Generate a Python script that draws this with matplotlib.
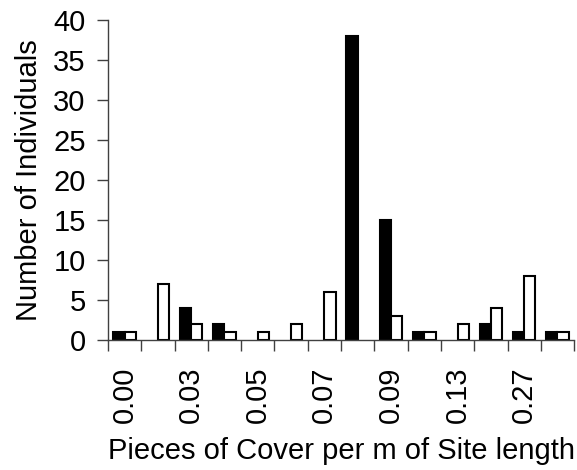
import numpy as np
import matplotlib
matplotlib.use("Agg")
import matplotlib.pyplot as plt

plt.rcParams['font.family'] = ['Liberation Sans', 'DejaVu Sans']

# cover density classes (only every other one gets a label on the axis)
categories = ["0.00", "", "0.03", "", "0.05", "", "0.07", "", "0.09", "", "0.13", "", "0.27", ""]
black_counts = [1, 0, 4, 2, 0, 0, 0, 38, 15, 1, 0, 2, 1, 1]
white_counts = [1, 7, 2, 1, 1, 2, 6, 0, 3, 1, 2, 4, 8, 1]

fig = plt.figure(figsize=(5.77, 4.70), dpi=100)
ax = fig.add_axes([0.187, 0.277, 0.808, 0.680])

x = np.arange(len(categories))
w = 0.34
b = np.array(black_counts)
wh = np.array(white_counts)
# skip empty classes so no flat bar sits on the axis line
ax.bar(x[b > 0] - w / 2, b[b > 0], width=w, color='black', edgecolor='black', linewidth=1.5)
ax.bar(x[wh > 0] + w / 2, wh[wh > 0], width=w, color='white', edgecolor='black', linewidth=1.5)

ax.set_xlim(-0.5, len(categories) - 0.5)
ax.set_ylim(0, 40)
ax.set_yticks(np.arange(0, 41, 5))

# boundary ticks between classes, labels centred under each class
ax.set_xticks(np.arange(len(categories) + 1) - 0.5)
ax.set_xticklabels([])
ax.set_xticks(x, minor=True)
ax.set_xticklabels(categories, minor=True, rotation=90, fontsize=21)
ax.tick_params(axis='x', which='major', length=8, width=1, color='#404040', direction='out')
ax.tick_params(axis='x', which='minor', length=0, pad=19)
ax.tick_params(axis='y', length=8, width=1, color='#404040', labelsize=21, pad=8)

for s in ['top', 'right']:
    ax.spines[s].set_visible(False)
for s in ['left', 'bottom']:
    ax.spines[s].set_color('#404040')
    ax.spines[s].set_linewidth(1)

ax.set_ylabel("Number of Individuals", fontsize=21, labelpad=7)
ax.set_xlabel("Pieces of Cover per m of Site length", fontsize=21, labelpad=10)

fig.savefig("out.png", dpi=100)
